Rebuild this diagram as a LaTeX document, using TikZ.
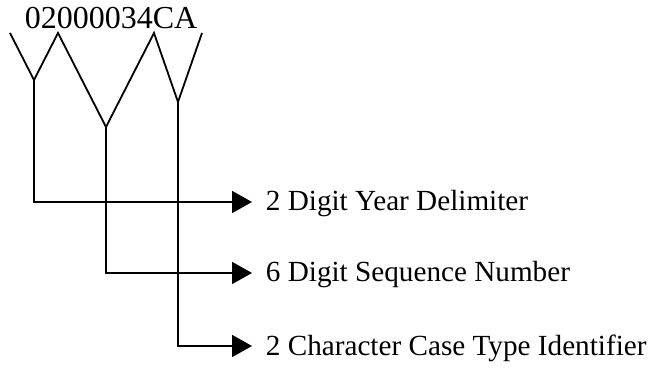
\documentclass[tikz,border=0pt]{standalone}
\usepackage{fontspec}
\setmainfont{Liberation Serif}
\usetikzlibrary{arrows.meta}
\begin{document}
\begin{tikzpicture}[x=0.5pt, y=-0.5pt, line width=0.9pt,
  lbl/.style = {font=\fontsize{16}{19}\selectfont, inner sep=0pt},
  field/.style = {lbl, anchor=west, font=\fontsize{14.6}{17}\selectfont},
  arr/.style = {-{Triangle[length=10pt,width=11pt]}}]
\useasboundingbox (0,0) rectangle (670,373);
\node[lbl] (code) at (111,18) {02000034CA};
\coordinate (1) at (10,33);
\coordinate (2) at (58,33);
\coordinate (3) at (154,33);
\coordinate (4) at (202,33);
\coordinate (5) at (34,80);
\coordinate (6) at (106,127);
\coordinate (7) at (178,102);
\coordinate (8) at (34,202);
\coordinate (9) at (106,273);
\coordinate (10) at (178,346);
\coordinate (11) at (252,202);
\coordinate (12) at (252,273);
\coordinate (13) at (252,346);
\node[field] (year) at (265,204) {2 Digit Year Delimiter};
\node[field] (seq) at (265,275) {6 Digit Sequence Number};
\node[field] (type) at (265,348) {2 Character Case Type Identifier};
\draw (1) -- (5) -- (2) -- (6) -- (3) -- (7) -- (4);
\draw[arr] (5) -- (8) -- (11);
\draw[arr] (6) -- (9) -- (12);
\draw[arr] (7) -- (10) -- (13);
\end{tikzpicture}
\end{document}
